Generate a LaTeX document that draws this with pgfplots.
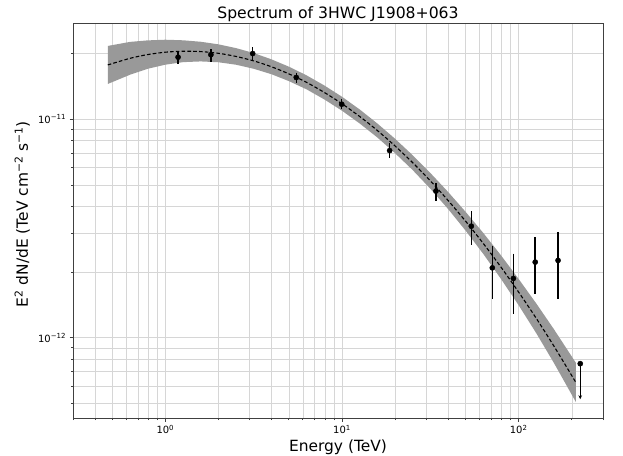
\documentclass[border=0pt]{standalone}
\usepackage{fontspec}
\setmainfont{DejaVu Sans}
\usepackage{pgfplots}
\usepackage{pgfplotstable}
\pgfplotsset{compat=1.18}
\usetikzlibrary{arrows.meta}
\definecolor{Band}{HTML}{999999}
\definecolor{GridC}{HTML}{D6D6D6}
\definecolor{Spine}{HTML}{404040}

% log-parabola fit
\pgfplotstableread{
E mid
0.472 1.769e-11
0.631 1.897e-11
0.794 1.973e-11
1.000 2.023e-11
1.259 2.044e-11
1.585 2.036e-11
1.995 2.000e-11
2.512 1.935e-11
3.162 1.846e-11
3.981 1.736e-11
5.012 1.609e-11
6.310 1.471e-11
7.943 1.324e-11
10.00 1.175e-11
12.59 1.028e-11
15.85 8.87e-12
19.95 7.542e-12
25.12 6.322e-12
31.62 5.222e-12
39.81 4.250e-12
50.12 3.410e-12
63.10 2.698e-12
79.43 2.104e-12
100.0 1.617e-12
125.9 1.226e-12
158.5 9.15e-13
210.9 6.244e-13
}\modeltab

% 1 sigma band: upper edge left to right, then lower edge right to left
\pgfplotstableread{
E F
0.472 2.161e-11
0.631 2.255e-11
0.794 2.291e-11
1.000 2.307e-11
1.259 2.293e-11
1.585 2.258e-11
1.995 2.198e-11
2.512 2.112e-11
3.162 2.005e-11
3.981 1.877e-11
5.012 1.736e-11
6.310 1.584e-11
7.943 1.425e-11
10.00 1.265e-11
12.59 1.107e-11
15.85 9.55e-12
19.95 8.137e-12
25.12 6.837e-12
31.62 5.673e-12
39.81 4.650e-12
50.12 3.765e-12
63.10 3.013e-12
79.43 2.383e-12
100.0 1.857e-12
125.9 1.434e-12
158.5 1.093e-12
210.9 7.68e-13
210.9 5.08e-13
158.5 7.66e-13
125.9 1.048e-12
100.0 1.408e-12
79.43 1.858e-12
63.10 2.416e-12
50.12 3.088e-12
39.81 3.885e-12
31.62 4.806e-12
25.12 5.846e-12
19.95 6.990e-12
15.85 8.24e-12
12.59 9.55e-12
10.00 1.092e-11
7.943 1.230e-11
6.310 1.367e-11
5.012 1.491e-11
3.981 1.605e-11
3.162 1.699e-11
2.512 1.773e-11
1.995 1.820e-11
1.585 1.836e-11
1.259 1.822e-11
1.000 1.774e-11
0.794 1.699e-11
0.631 1.596e-11
0.472 1.448e-11
}\bandtab

% flux points
\pgfplotstableread{
E F
1.18 1.92e-11
1.81 1.97e-11
3.12 1.995e-11
5.51 1.55e-11
9.96 1.17e-11
18.6 7.18e-12
34.0 4.69e-12
53.9 3.24e-12
70.9 2.09e-12
93.3 1.87e-12
124 2.22e-12
167 2.26e-12
}\pointtab

\begin{document}
\begin{tikzpicture}
\useasboundingbox (-73bp,-37.7bp) rectangle (550bp,418bp);
\begin{axis}[
  at={(0,0)}, anchor=south west,
  scale only axis,
  width=530bp, height=395bp,
  xmode=log, ymode=log,
  xmin=0.3, xmax=300,
  ymin=4.3e-13, ymax=2.75e-11,
  xtick={1,10,100},
  xticklabels={10\textsuperscript{0},10\textsuperscript{1},10\textsuperscript{2}},
  minor xtick={0.3,0.4,0.5,0.6,0.7,0.8,0.9,2,3,4,5,6,7,8,9,20,30,40,50,60,70,80,90,200,300},
  ytick={1e-12,1e-11},
  yticklabels={10\textsuperscript{−12},10\textsuperscript{−11}},
  minor ytick={5e-13,6e-13,7e-13,8e-13,9e-13,2e-12,3e-12,4e-12,5e-12,6e-12,7e-12,8e-12,9e-12,2e-11},
  grid=both,
  major grid style={draw=GridC, line width=0.8bp},
  minor grid style={draw=GridC, line width=0.6bp},
  axis line style={draw=Spine, line width=0.8bp},
  tick style={draw=Spine, line width=0.8bp},
  tick align=outside,
  xtick pos=bottom, ytick pos=left,
  major tick length=3.5bp, minor tick length=2bp,
  tick label style={font=\fontsize{10}{12}\selectfont},
  title={Spectrum of 3HWC J1908+063},
  every axis title/.style={at={(rel axis cs:0.5,1.012)}, anchor=base,
    font=\fontsize{15.7}{18}\selectfont},
  xlabel={Energy (TeV)},
  ylabel={E\textsuperscript{2} dN/dE (TeV cm\textsuperscript{−2} s\textsuperscript{−1})},
  every axis x label/.style={at={(rel axis cs:0.5,-0.0843)}, anchor=base,
    font=\fontsize{15.5}{18}\selectfont},
  every axis y label/.style={at={(rel axis cs:-0.0853,0.516)}, rotate=90, anchor=base,
    font=\fontsize{15.5}{18}\selectfont},
]
  \addplot[fill=Band, draw=none] table[x=E, y=F] {\bandtab} -- cycle;
  \addplot[black, line width=1.1bp, dash pattern=on 3.6bp off 2.2bp, smooth] table[x=E, y=mid] {\modeltab};
  % error bars
  \addplot[black, line width=1.5bp] coordinates {(1.18,2.05e-11) (1.18,1.79e-11)};
  \addplot[black, line width=1.5bp] coordinates {(1.81,2.09e-11) (1.81,1.83e-11)};
  \addplot[black, line width=1.5bp] coordinates {(3.12,2.13e-11) (3.12,1.85e-11)};
  \addplot[black, line width=1.5bp] coordinates {(5.51,1.63e-11) (5.51,1.47e-11)};
  \addplot[black, line width=1.5bp] coordinates {(9.96,1.23e-11) (9.96,1.11e-11)};
  \addplot[black, line width=1.5bp] coordinates {(18.6,7.76e-12) (18.6,6.63e-12)};
  \addplot[black, line width=1.5bp] coordinates {(34.0,5.10e-12) (34.0,4.22e-12)};
  \addplot[black, line width=1.5bp] coordinates {(53.9,3.79e-12) (53.9,2.66e-12)};
  \addplot[black, line width=1.5bp] coordinates {(70.9,2.62e-12) (70.9,1.50e-12)};
  \addplot[black, line width=1.5bp] coordinates {(93.3,2.43e-12) (93.3,1.29e-12)};
  \addplot[black, line width=1.5bp] coordinates {(124,2.89e-12) (124,1.58e-12)};
  \addplot[black, line width=1.5bp] coordinates {(167,3.05e-12) (167,1.50e-12)};
  \addplot[only marks, black, mark=*, mark size=2.6bp] table[x=E, y=F] {\pointtab};
  % upper limit
  \addplot[black, line width=1.3bp, -{Stealth[length=4bp, width=3.6bp]}]
    coordinates {(223,7.62e-13) (223,5.24e-13)};
  \addplot[only marks, black, mark=*, mark size=2.6bp] coordinates {(223,7.62e-13)};
\end{axis}
\end{tikzpicture}
\end{document}
